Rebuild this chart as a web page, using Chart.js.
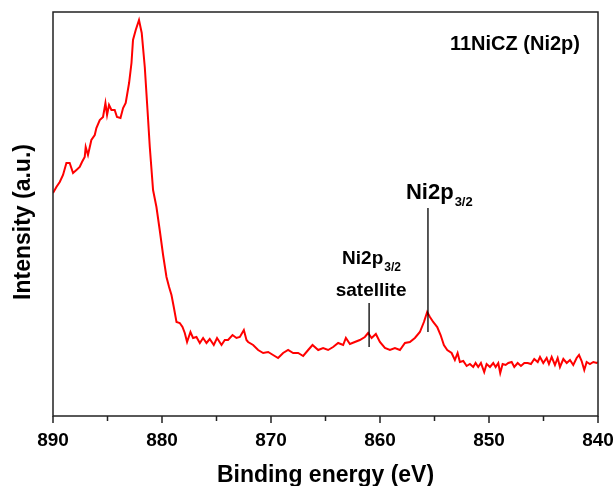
<!DOCTYPE html>
<html>
<head>
<meta charset="utf-8">
<script src="https://cdn.jsdelivr.net/npm/chart.js@4.4.1/dist/chart.umd.min.js"></script>
<style>
html,body{margin:0;padding:0;background:#fff;}
canvas{display:block;}
</style>
</head>
<body>
<canvas id="c" width="613" height="486"></canvas>
<script>
// Binding energy (eV)
const energies = [
890.00,889.69,889.38,889.08,888.77,888.47,888.16,887.85,887.55,887.34,887.09,887.00,886.79,886.48,886.17,886.02,885.71,885.41,885.19,885.04,884.86,884.64,884.34,884.13,883.81,883.57,883.33,883.02,882.80,882.66,882.41,882.11,881.86,881.58,881.33,881.12,880.82,880.51,
880.21,879.90,879.59,879.35,879.13,878.92,878.67,878.37,878.12,877.91,877.70,877.39,877.15,876.84,876.53,876.23,875.92,875.62,875.25,874.95,874.54,874.24,873.94,873.53,873.17,872.86,872.49,872.25,
872.10,871.64,871.18,870.72,870.26,869.81,869.35,868.89,868.43,867.97,867.51,867.05,866.59,866.19,865.67,865.22,864.76,864.30,863.84,863.38,863.13,862.76,862.31,861.85,
861.39,861.09,860.77,860.38,860.01,859.55,859.09,858.63,858.17,857.71,857.26,856.80,856.34,855.97,855.67,855.42,855.12,854.75,854.44,854.14,853.83,853.43,
853.13,852.88,852.67,852.36,852.05,851.75,851.45,851.23,850.99,850.74,850.44,850.22,849.91,849.61,849.39,849.15,848.97,848.75,848.47,848.23,847.92,847.68,847.37,847.07,846.76,
846.45,846.15,845.85,845.53,845.32,845.02,844.71,844.50,844.25,843.95,843.70,843.49,843.18,842.87,842.57,842.27,841.96,841.74,841.50,841.26,841.04,840.74,840.43,840.12,840.00
];
// Intensity (a.u.)
const intensity = [
223,229,234,241,253,253,243,246,249,254,259,269,261,276,281,288,296,299,313,301,311,306,306,299,298,308,313,333,353,376,386,396,383,349,306,269,226,209,
186,161,139,129,121,109,94,93,89,83,74,84,78,79,73,78,73,77,71,78,71,76,76,81,78,79,86,76,
74,71,66,63,64,61,58,63,66,63,63,60,66,71,66,68,66,69,73,71,78,72,74,76,
79,83,78,82,74,68,66,68,66,73,74,78,84,94,104,99,94,89,81,71,66,63,
56,63,54,55,50,52,49,53,49,53,44,52,49,53,49,53,43,52,51,53,54,49,53,50,53,
53,52,57,54,59,53,58,52,59,51,58,49,57,53,56,51,58,61,55,46,54,52,54,53,54
];
const xTicks = [890,880,870,860,850,840];
const xMinorTicks = [885,875,865,855,845];
const xTitle = "Binding energy (eV)";
const yTitle = "Intensity (a.u.)";
const panelLabel = "11NiCZ (Ni2p)";
// annotation anchors in data units: [energy, top intensity, bottom intensity]
const mainPeakLine = [855.6, 208, 84];
const satLine = [861.0, 113, 69];

const FONT = "'Liberation Sans', Arial, sans-serif";

const decor = {
  id: 'decor',
  afterDraw(chart) {
    const {ctx, chartArea: a, scales: {x, y}} = chart;
    ctx.save();
    // frame
    ctx.strokeStyle = '#222';
    ctx.lineWidth = 1.5;
    ctx.strokeRect(a.left, a.top, a.right - a.left, a.bottom - a.top);
    // ticks
    ctx.beginPath();
    xTicks.forEach(v => { const px = x.getPixelForValue(v); ctx.moveTo(px, a.bottom); ctx.lineTo(px, a.bottom + 7); });
    xMinorTicks.forEach(v => { const px = x.getPixelForValue(v); ctx.moveTo(px, a.bottom); ctx.lineTo(px, a.bottom + 5); });
    ctx.stroke();
    // axis titles
    ctx.fillStyle = '#000';
    ctx.font = "bold 23px " + FONT;
    ctx.textAlign = 'center';
    ctx.textBaseline = 'alphabetic';
    ctx.fillText(xTitle, (a.left + a.right) / 2, 482);
    ctx.save();
    ctx.translate(30, 222);
    ctx.rotate(-Math.PI / 2);
    ctx.fillText(yTitle, 0, 0);
    ctx.restore();
    // panel label
    ctx.font = "bold 20px " + FONT;
    ctx.textAlign = 'right';
    ctx.fillText(panelLabel, 580, 50);
    // annotation lines
    ctx.strokeStyle = '#000';
    ctx.lineWidth = 1.3;
    ctx.beginPath();
    const px = x.getPixelForValue(mainPeakLine[0]);
    ctx.moveTo(px, y.getPixelForValue(mainPeakLine[1]));
    ctx.lineTo(px, y.getPixelForValue(mainPeakLine[2]));
    const sx = x.getPixelForValue(satLine[0]);
    ctx.moveTo(sx, y.getPixelForValue(satLine[1]));
    ctx.lineTo(sx, y.getPixelForValue(satLine[2]));
    ctx.stroke();
    // big label
    ctx.textAlign = 'left';
    ctx.font = "bold 22px " + FONT;
    const bx = px - 22, by = y.getPixelForValue(mainPeakLine[1]) - 9;
    ctx.fillText("Ni2p", bx, by);
    let w = ctx.measureText("Ni2p").width;
    ctx.font = "bold 13px " + FONT;
    ctx.fillText("3/2", bx + w + 1, by + 7);
    // satellite label
    ctx.font = "bold 19px " + FONT;
    const s1x = sx - 27, s1y = y.getPixelForValue(satLine[1]) - 39;
    ctx.fillText("Ni2p", s1x, s1y);
    w = ctx.measureText("Ni2p").width;
    ctx.font = "bold 12px " + FONT;
    ctx.fillText("3/2", s1x + w + 1, s1y + 7);
    ctx.font = "bold 19px " + FONT;
    ctx.textAlign = 'center';
    ctx.fillText("satellite", sx + 2, y.getPixelForValue(satLine[1]) - 7);
    ctx.restore();
  }
};

new Chart(document.getElementById('c'), {
  type: 'line',
  data: {
    datasets: [{
      data: energies.map((e, i) => ({x: e, y: intensity[i]})),
      borderColor: '#ff0000',
      borderWidth: 2,
      pointRadius: 0,
      tension: 0,
      fill: false
    }]
  },
  options: {
    responsive: false,
    animation: false,
    devicePixelRatio: 1,
    layout: {padding: {top: 12, right: 15, left: 0, bottom: 0}},
    plugins: {legend: {display: false}, tooltip: {enabled: false}},
    scales: {
      x: {
        type: 'linear',
        reverse: true,
        min: 840, max: 890,
        afterFit: s => { s.height = 70; s.paddingLeft = 0; s.paddingRight = 0; },
        afterBuildTicks: s => { s.ticks = xTicks.map(v => ({value: v})); },
        ticks: {
          color: '#000',
          font: {family: FONT, size: 19, weight: 'bold'},
          padding: 6,
          maxRotation: 0,
          autoSkip: false,
          callback: v => String(v)
        },
        grid: {display: true, drawOnChartArea: false, drawTicks: true, tickLength: 7, color: 'rgba(0,0,0,0)'},
        border: {display: false}
      },
      y: {
        min: 0, max: 404,
        afterFit: s => { s.width = 53; s.paddingTop = 0; s.paddingBottom = 0; },
        ticks: {display: false},
        grid: {display: false},
        border: {display: false}
      }
    }
  },
  plugins: [decor]
});
</script>
</body>
</html>
